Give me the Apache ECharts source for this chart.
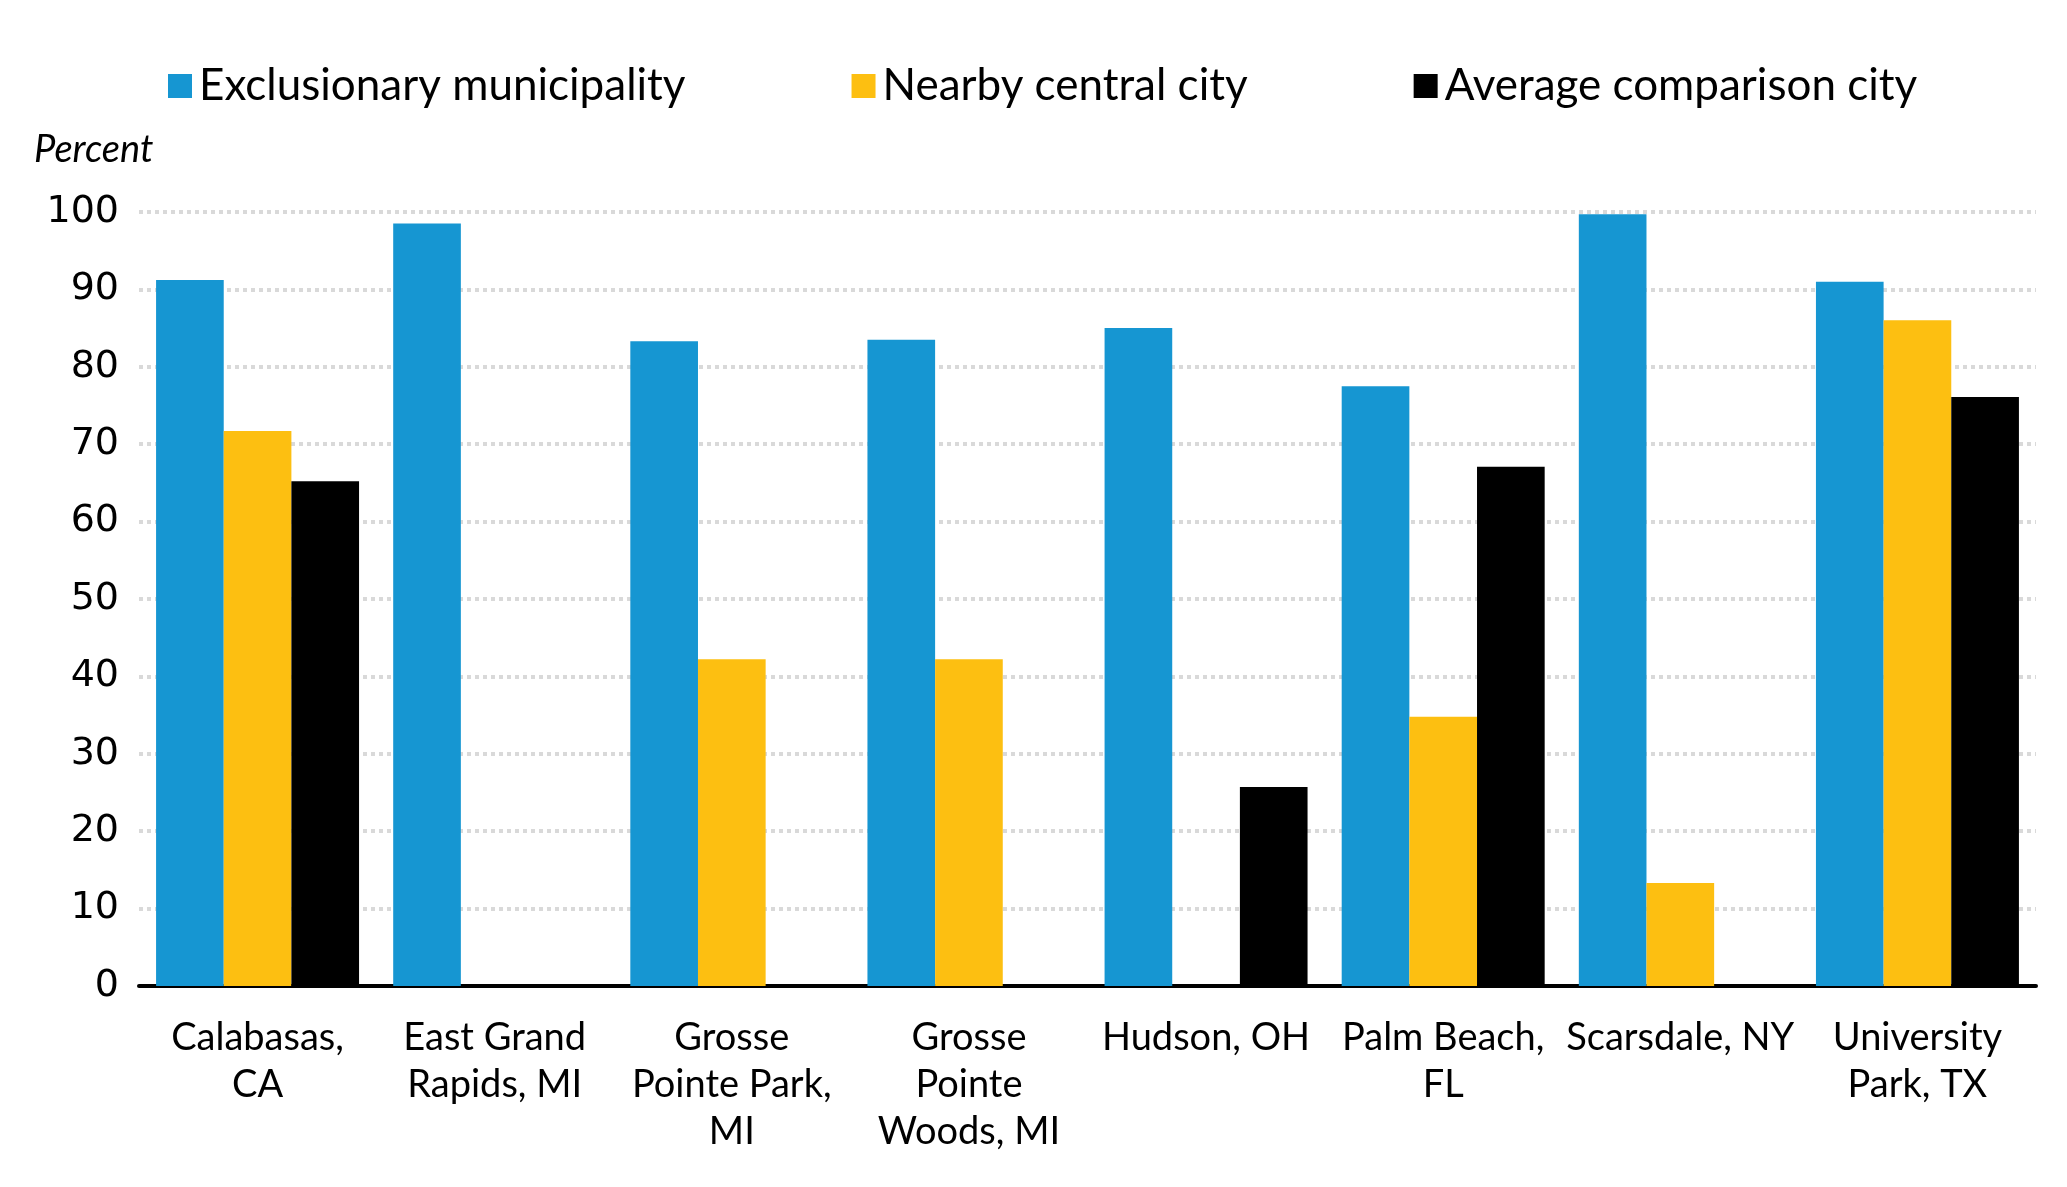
<!DOCTYPE html>
<html>
<head>
<meta charset="utf-8">
<script src="https://cdn.jsdelivr.net/npm/echarts@6/dist/echarts.min.js"></script>
<style>html,body{margin:0;padding:0;background:#fff}#c{width:2067px;height:1187px}</style>
</head>
<body>
<div id="c"></div>
<script>
const categories = ["Calabasas,\nCA", "East Grand\nRapids, MI", "Grosse\nPointe Park,\nMI", "Grosse\nPointe\nWoods, MI", "Hudson, OH", "Palm Beach,\nFL", "Scarsdale, NY", "University\nPark, TX"];
const exclusionary = [91.2, 98.5, 83.3, 83.5, 85.0, 77.5, 99.7, 91.0];
const nearbyCentral = [71.7, null, 42.2, 42.2, null, 34.8, 13.3, 86.0];
const averageComparison = [65.2, null, null, null, 25.7, 67.1, null, 76.1];
const yTicks = [0, 10, 20, 30, 40, 50, 60, 70, 80, 90, 100];

const FONT = 'Lato';
const chart = echarts.init(document.getElementById('c'), null, {renderer: 'canvas'});
chart.setOption({
  backgroundColor: '#ffffff',
  animation: false,
  title: {
    text: 'Percent', left: 29, top: 126,
    textStyle: {fontFamily: FONT, fontStyle: 'italic', fontWeight: 'normal', fontSize: 38, color: '#000'}
  },
  legend: {
    left: 163, top: 59, itemGap: 166, itemWidth: 24, itemHeight: 24,
    icon: 'rect',
    textStyle: {fontFamily: FONT, fontSize: 44, color: '#000', padding: [0, 0, 0, 2]}
  },
  grid: {left: 139, right: 31, top: 212, bottom: 201, containLabel: false},
  xAxis: {
    type: 'category', data: categories,
    axisLine: {lineStyle: {color: '#000', width: 4}},
    axisTick: {show: false},
    axisLabel: {fontFamily: FONT, fontSize: 38, color: '#000', lineHeight: 47, margin: 28, interval: 0, align: 'center'}
  },
  yAxis: {
    type: 'value', min: yTicks[0], max: yTicks[yTicks.length - 1], interval: 10,
    axisLine: {show: false}, axisTick: {show: false},
    axisLabel: {fontFamily: 'DejaVu Sans', fontSize: 38, color: '#000', margin: 20},
    splitLine: {lineStyle: {color: '#d9d9d9', width: 4, type: [4, 4]}}
  },
  series: [
    {name: 'Exclusionary municipality', type: 'bar', data: exclusionary, itemStyle: {color: '#1696d2'}, barGap: '0%', barCategoryGap: '14.4%'},
    {name: 'Nearby central city', type: 'bar', data: nearbyCentral, itemStyle: {color: '#fdbf11'}, barGap: '0%', barCategoryGap: '14.4%'},
    {name: 'Average comparison city', type: 'bar', data: averageComparison, itemStyle: {color: '#000000'}, barGap: '0%', barCategoryGap: '14.4%'}
  ]
});
</script>
</body>
</html>
